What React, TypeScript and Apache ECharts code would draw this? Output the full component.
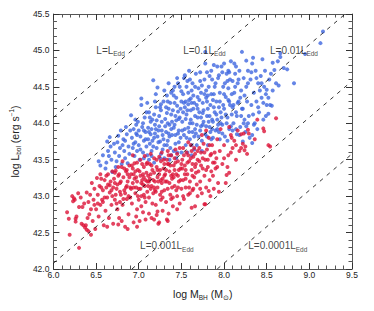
import React, { useEffect, useRef } from 'react';
import * as echarts from 'echarts';

const X_MIN = 6.0;
const X_MAX = 9.5;
const Y_MIN = 42.0;
const Y_MAX = 45.5;
const TICK_STEP = 0.5;

// log L_Edd = EDD_OFFSET + log M
const EDD_OFFSET = 38.08;
const eddRatios = [1, 0.1, 0.01, 0.001, 0.0001];
const eddLabelMain = ['L=L', 'L=0.1L', 'L=0.01L', 'L=0.001L', 'L=0.0001L'];
const eddLabelAnchor = [
  [6.67, 45.0],
  [7.77, 45.0],
  [8.82, 45.0],
  [7.33, 42.32],
  [8.63, 42.32],
];

const blueSample: number[][] = [
  [6.53,43.48],[6.55,43.42],[6.58,43.56],[6.61,43.38],[6.63,43.75],[6.66,43.81],[6.64,43.62],[6.68,43.5],[6.62,43.46],[6.67,43.68],[6.69,43.33],[6.65,43.55],
  [6.71,43.72],[6.72,43.6],[6.74,43.48],[6.76,43.83],[6.73,43.4],[6.78,43.66],[6.77,43.55],[6.79,43.9],[6.81,43.7],[6.83,43.62],[6.82,43.78],[6.84,43.52],[6.86,43.85],[6.87,43.45],[6.88,43.68],[6.85,43.95],[6.89,43.58],[6.8,43.44],[6.75,43.74],
  [6.91,44.11],[6.92,43.8],[6.93,43.66],[6.94,43.92],[6.95,43.55],[6.96,43.74],[6.97,43.86],[6.98,43.62],[6.99,44.02],[7.0,43.7],[7.01,43.5],[7.02,43.82],[7.03,44.34],[7.03,44.25],[7.04,43.95],[7.05,43.6],[7.06,43.76],[7.07,44.08],[7.08,43.88],[7.09,43.68],[7.1,43.56],[6.94,43.72],[6.97,43.98],[7.0,43.9],[7.05,44.0],[7.08,43.78],
  [7.11,43.94],[7.12,44.15],[7.13,43.72],[7.14,43.85],[7.15,43.62],[7.16,44.05],[7.17,44.59],[7.18,43.8],[7.19,43.98],[7.2,44.22],[7.21,43.66],[7.22,44.49],[7.23,43.9],[7.24,44.1],[7.25,43.75],[7.26,43.58],[7.27,44.02],[7.28,43.84],[7.29,44.3],[7.3,43.7],[7.12,43.88],[7.14,44.02],[7.16,43.76],[7.18,44.12],[7.2,43.92],[7.22,43.82],[7.24,43.96],[7.26,44.18],[7.28,43.64],[7.15,43.55],[7.25,43.52],[7.19,44.3],
  [7.31,44.06],[7.32,43.88],[7.33,44.38],[7.34,43.76],[7.35,44.2],[7.36,43.98],[7.37,43.66],[7.38,44.12],[7.39,43.84],[7.4,44.45],[7.41,43.94],[7.42,44.28],[7.43,43.72],[7.44,44.04],[7.45,43.6],[7.46,44.16],[7.47,43.9],[7.48,44.5],[7.49,43.8],[7.5,44.3],[7.32,44.22],[7.34,44.0],[7.36,43.82],[7.38,43.56],[7.4,44.18],[7.42,43.98],[7.44,44.35],[7.46,43.86],[7.48,44.08],[7.35,44.55],[7.45,44.62],[7.38,43.92],[7.43,44.1],[7.47,43.74],[7.33,43.7],[7.41,43.62],
  [7.51,44.02],[7.52,44.4],[7.53,43.84],[7.54,44.22],[7.55,43.7],[7.56,44.12],[7.57,44.58],[7.58,43.94],[7.59,44.32],[7.6,43.78],[7.61,44.05],[7.62,44.45],[7.63,43.88],[7.64,44.2],[7.65,43.64],[7.66,44.1],[7.67,44.68],[7.68,43.98],[7.69,44.36],[7.7,43.82],[7.52,44.15],[7.54,43.92],[7.56,44.5],[7.58,44.26],[7.6,44.0],[7.62,43.7],[7.64,44.38],[7.66,43.92],[7.68,44.25],[7.53,44.62],[7.57,43.6],[7.63,44.55],[7.69,44.08],[7.55,44.3],[7.61,44.18],[7.65,43.82],[7.59,44.72],[7.7,44.48],
  [7.71,44.15],[7.72,43.9],[7.73,44.42],[7.74,43.76],[7.75,44.28],[7.76,44.02],[7.77,44.6],[7.78,43.85],[7.79,44.35],[7.8,44.1],[7.81,43.7],[7.82,44.5],[7.83,43.95],[7.84,44.25],[7.85,44.72],[7.86,44.05],[7.87,43.8],[7.88,44.4],[7.89,44.15],[7.9,43.9],[7.72,44.7],[7.74,44.52],[7.76,44.18],[7.78,44.82],[7.8,44.3],[7.82,44.02],[7.84,43.88],[7.86,44.6],[7.88,44.22],[7.75,43.98],[7.79,44.45],[7.83,44.65],[7.87,44.32],[7.73,44.08],[7.81,44.38],[7.85,43.78],[7.78,44.98],[7.9,44.55],
  [7.91,44.3],[7.92,44.05],[7.93,44.62],[7.94,43.88],[7.95,44.42],[7.96,44.15],[7.97,44.78],[7.98,43.98],[7.99,44.5],[8.0,44.2],[8.01,43.82],[8.02,44.36],[8.03,44.68],[8.04,44.08],[8.05,44.48],[8.06,43.92],[8.07,44.25],[8.08,44.85],[8.09,44.12],[8.1,44.58],[7.92,44.78],[7.94,44.22],[7.96,44.0],[7.98,44.7],[8.0,44.4],[8.02,44.12],[8.04,44.58],[8.06,44.3],[8.08,43.96],[8.1,44.22],[7.95,43.78],[8.05,44.72],
  [8.11,44.0],[8.12,44.42],[8.13,44.68],[8.14,44.15],[8.15,43.85],[8.16,44.55],[8.17,44.3],[8.18,44.72],[8.19,43.95],[8.2,44.45],[8.21,44.98],[8.22,44.2],[8.23,44.62],[8.24,44.05],[8.25,43.88],[8.26,44.5],[8.27,44.3],[8.28,44.72],[8.29,44.1],[8.3,43.8],[8.12,44.82],[8.16,44.28],[8.2,44.1],[8.24,44.38],[8.28,44.55],[8.14,43.92],[8.22,43.75],
  [8.31,44.6],[8.32,44.25],[8.33,44.82],[8.35,44.42],[8.36,44.0],[8.37,44.72],[8.38,44.3],[8.4,44.55],[8.41,44.15],[8.43,44.65],[8.44,44.35],[8.46,44.05],[8.47,44.5],[8.48,44.72],[8.5,44.25],[8.34,44.9],[8.39,43.92],[8.45,44.88],[8.42,44.45],[8.49,44.1],[8.33,43.84],[8.33,43.73],[8.35,43.98],[8.52,44.13],[8.56,44.24],
  [8.52,44.35],[8.53,44.6],[8.55,44.68],[8.59,44.73],[8.61,44.55],[8.63,44.85],[8.66,44.96],[8.66,44.91],[8.7,44.76],[8.74,44.74],[8.82,44.55],[8.95,44.95],[9.13,45.1],[9.16,45.26],[8.57,44.45],[8.54,44.25],[8.57,44.83],[8.64,44.52],[8.49,44.4],
  [7.02,43.64],[7.06,43.9],[7.09,44.15],[7.11,43.78],[7.13,44.08],[7.15,43.92],[7.17,43.68],[7.19,43.86],[7.21,44.04],[7.23,43.74],[7.25,44.22],[7.27,43.9],[7.29,43.78],[7.31,43.96],[7.33,44.14],[7.35,43.86],[7.37,44.28],[7.39,44.02],[7.41,44.38],[7.43,43.84],[7.45,44.24],[7.47,44.06],[7.49,44.2],[7.51,43.9],[7.53,44.28],[7.55,44.06],[7.57,44.18],[7.59,43.88],[7.61,44.34],[7.63,44.0],[7.65,44.28],[7.67,43.86],[7.69,44.2],[7.71,44.32],[7.73,43.96],[7.75,44.14],[7.77,44.4],[7.79,43.96],[7.81,44.2],[7.83,44.1],[7.85,44.4],[7.87,44.02],[7.89,44.5],[7.91,44.12],[7.93,43.98],[7.95,44.3],[7.97,44.08],[7.99,44.25],[8.01,44.55],[8.03,44.0],[8.05,44.32],[8.07,44.6],[8.09,44.4],[8.11,44.25],[8.13,44.5],[8.15,44.1],[8.17,44.6],[8.19,44.35],[8.21,44.2],[8.23,44.0],
  [7.06,43.52],[7.12,43.5],[7.18,43.46],[7.3,43.52],[7.36,43.5],[7.44,43.52],[7.5,43.6],[7.56,43.8],[7.62,43.56],[7.68,43.7],[7.74,43.62],[7.8,43.82],[7.86,43.92],[7.92,43.92],[7.98,43.86],[8.04,43.76],[8.1,43.9],[6.98,43.84],[6.9,43.9],[6.84,43.76],[6.96,44.05],[7.1,44.28],[7.2,44.4],[7.3,44.45],[7.38,44.42],[7.46,44.55],[7.54,44.66],[7.6,44.6],[7.66,44.5],[7.72,44.58],[7.8,44.7],[7.88,44.8],[7.94,44.66],[8.0,44.82],[8.06,44.7],[8.14,44.78],[8.26,44.86],[8.32,44.7],[8.38,44.62],[8.44,44.55],[8.5,44.46],[8.46,44.28],[8.4,44.22],[8.34,44.12],[8.28,44.0],[8.18,43.84],[8.26,43.96],[7.26,44.26],[7.42,44.5],[7.58,44.42],[7.34,44.3],[7.5,44.44],[7.62,44.28],
];

const redSample: number[][] = [
  [6.16,42.78],[6.19,42.47],[6.18,42.69],[6.23,42.93],[6.26,42.69],[6.29,43.04],[6.3,42.29],[6.24,42.97],[6.27,42.72],[6.25,42.95],[6.26,42.65],
  [6.33,42.62],[6.35,42.6],[6.37,42.57],[6.39,42.54],[6.41,42.52],[6.38,42.6],[6.34,42.85],[6.39,43.05],[6.41,42.92],[6.42,42.75],[6.44,42.47],[6.45,43.18],[6.46,42.66],[6.47,42.95],[6.48,43.1],[6.5,42.82],[6.49,42.55],[6.32,42.98],[6.43,43.02],
  [6.51,43.25],[6.52,43.02],[6.53,42.72],[6.54,43.14],[6.55,42.88],[6.56,43.24],[6.57,42.95],[6.58,43.08],[6.59,42.6],[6.6,43.22],[6.61,42.8],[6.62,43.12],[6.63,42.98],[6.64,43.3],[6.65,42.7],[6.66,43.05],[6.67,43.2],[6.68,42.88],[6.69,43.34],[6.7,42.62],[6.55,43.3],[6.62,43.28],[6.66,43.15],[6.58,42.92],[6.69,43.0],[6.63,42.58],
  [6.71,43.24],[6.72,42.95],[6.73,43.35],[6.74,43.1],[6.75,42.82],[6.76,43.28],[6.77,42.7],[6.78,43.18],[6.79,43.02],[6.8,43.4],[6.81,42.88],[6.82,43.26],[6.83,43.08],[6.84,42.58],[6.85,43.34],[6.86,42.96],[6.87,43.2],[6.88,42.75],[6.89,43.42],[6.9,43.12],[6.72,43.32],[6.75,43.16],[6.78,42.92],[6.81,43.48],[6.84,43.04],[6.87,43.3],[6.8,42.66],[6.86,43.14],[6.76,43.4],[6.88,43.0],[6.76,42.61],[6.87,42.55],
  [6.91,43.3],[6.92,42.9],[6.93,43.18],[6.94,42.64],[6.95,43.45],[6.96,43.04],[6.97,43.26],[6.98,42.82],[6.99,43.36],[7.0,43.1],[7.01,42.66],[7.02,43.5],[7.03,43.0],[7.04,43.22],[7.05,42.78],[7.06,43.4],[7.07,43.14],[7.08,42.92],[7.09,43.32],[7.1,43.06],[6.92,43.42],[6.94,43.12],[6.96,43.34],[6.98,43.2],[7.0,42.95],[7.02,43.28],[7.04,43.44],[7.06,43.02],[7.08,43.22],[7.1,43.46],[6.97,42.72],[7.03,42.86],[7.07,43.55],[6.93,43.56],[7.05,43.16],[7.08,42.68],
  [7.11,43.28],[7.12,42.98],[7.13,43.44],[7.14,43.1],[7.15,42.7],[7.16,43.36],[7.17,43.04],[7.18,43.52],[7.19,43.2],[7.2,42.88],[7.21,43.4],[7.22,43.12],[7.23,42.62],[7.24,43.3],[7.25,43.02],[7.26,43.48],[7.27,43.18],[7.28,42.8],[7.29,43.38],[7.3,43.08],[7.12,43.2],[7.14,43.58],[7.16,42.9],[7.18,43.32],[7.2,43.06],[7.22,43.26],[7.24,43.54],[7.26,42.95],[7.28,43.24],[7.3,43.44],[7.15,43.14],[7.21,42.74],[7.27,43.6],[7.24,42.64],[7.22,42.79],
  [7.31,43.2],[7.32,42.92],[7.33,43.5],[7.34,43.1],[7.35,42.76],[7.36,43.34],[7.37,43.02],[7.38,43.56],[7.39,43.24],[7.4,42.86],[7.41,43.42],[7.42,43.14],[7.43,43.64],[7.44,43.3],[7.45,43.0],[7.46,43.48],[7.47,43.2],[7.48,42.9],[7.49,43.38],[7.5,43.1],[7.32,43.36],[7.34,43.62],[7.36,43.18],[7.38,42.96],[7.4,43.3],[7.42,43.52],[7.44,43.08],[7.46,43.28],[7.48,43.66],[7.35,43.44],[7.45,42.82],[7.33,42.68],[7.34,42.66],
  [7.51,43.5],[7.52,43.22],[7.53,42.96],[7.54,43.42],[7.55,43.12],[7.56,43.6],[7.57,43.3],[7.58,43.02],[7.59,43.48],[7.6,43.2],[7.61,43.7],[7.62,43.36],[7.63,43.08],[7.64,43.54],[7.65,43.26],[7.66,42.86],[7.67,43.44],[7.68,43.16],[7.69,43.62],[7.7,43.34],[7.52,43.66],[7.55,43.36],[7.58,43.74],[7.6,43.04],[7.63,43.44],[7.66,43.58],[7.69,43.0],[7.62,42.84],
  [7.71,43.48],[7.72,43.2],[7.73,43.6],[7.74,43.04],[7.75,43.38],[7.76,43.72],[7.77,43.28],[7.78,43.5],[7.79,43.12],[7.8,43.64],[7.81,43.4],[7.82,43.8],[7.83,43.22],[7.84,43.56],[7.85,43.34],[7.86,43.7],[7.87,43.46],[7.88,43.1],[7.89,43.6],[7.9,43.38],[7.74,43.84],[7.79,43.9],[7.84,43.0],[7.77,42.89],[7.78,42.89],[7.82,43.07],
  [7.91,43.52],[7.92,43.78],[7.93,43.18],[7.95,43.62],[7.96,43.92],[7.98,43.44],[8.0,43.7],[8.02,43.18],[8.03,43.29],[8.05,43.56],[8.06,43.32],[8.08,43.84],[8.1,43.66],[7.94,43.06],[8.04,43.4],[8.09,43.8],[8.06,43.95],
  [8.12,43.76],[8.14,43.5],[8.16,43.9],[8.18,43.62],[8.2,43.85],[8.23,43.86],[8.24,43.63],[8.25,43.68],[8.27,43.58],[8.28,43.91],[8.29,43.86],[8.22,43.72],
  [8.36,43.78],[8.39,44.05],[8.47,43.89],[8.54,43.68],[8.61,44.07],[8.52,43.7],[8.46,43.93],
  [6.7,43.12],[6.73,43.02],[6.77,43.3],[6.79,43.2],[6.83,43.38],[6.85,43.12],[6.89,43.26],[6.91,43.1],[6.93,43.38],[6.95,43.24],[6.97,43.12],[6.99,43.0],[7.01,43.34],[7.03,43.18],[7.05,43.3],[7.07,42.98],[7.09,43.44],[7.11,43.14],[7.13,43.24],[7.15,43.42],[7.17,43.22],[7.19,43.08],[7.21,43.5],[7.23,43.2],[7.25,43.36],[7.27,43.06],[7.29,43.5],[7.31,43.3],[7.33,43.2],[7.35,43.56],[7.37,43.42],[7.39,43.12],[7.41,43.26],[7.43,43.46],[7.45,43.58],[7.47,43.36],[7.49,43.22],[7.51,43.38],[7.53,43.56],[7.55,43.24],[7.57,43.46],[7.59,43.12],[7.61,43.52],[7.63,43.28],[7.65,43.66],[7.67,43.32],[7.69,43.5],[7.71,43.66],[7.73,43.42],[7.75,43.52],[7.77,43.6],[7.79,43.36],[7.81,43.5],[7.83,43.7],[7.85,43.58],[7.87,43.28],[7.89,43.46],
  [6.6,42.98],[6.64,43.16],[6.68,43.08],[6.72,43.18],[6.74,42.9],[6.78,43.06],[6.82,42.96],[6.86,43.36],[6.9,42.98],[6.94,43.3],[6.98,43.46],[7.02,43.1],[7.06,43.26],[7.1,43.2],[7.14,43.3],[7.18,43.12],[7.22,43.36],[7.26,43.22],[7.3,43.28],[7.34,43.44],[7.38,43.28],[7.42,43.36],[7.46,43.12],[7.5,43.44],[7.54,43.3],[7.58,43.56],[7.62,43.62],[7.66,43.4],
  [6.56,43.12],[6.52,42.9],[6.48,42.88],[6.44,42.82],[6.4,42.7],[6.36,42.9],[6.3,42.85],[6.22,43.0],[6.98,42.58],[7.12,42.76],[7.18,42.68],[7.28,42.98],[7.4,42.98],[7.52,43.0],[7.64,43.1],[7.72,43.1],[7.92,43.4],[8.0,43.52],[8.08,43.6],[8.14,43.7],[8.2,43.66],
];

const FONT = '"Liberation Sans", Arial, Helvetica, sans-serif';

export default function App() {
  const ref = useRef<HTMLDivElement>(null);

  useEffect(() => {
    if (!ref.current) return;
    const chart = echarts.init(ref.current, undefined, { renderer: 'svg' });

    const lineSeries = eddRatios.map((r) => {
      const off = EDD_OFFSET + Math.log10(r);
      // clip the relation log L = off + log M to the plotting box
      const x0 = Math.max(X_MIN, Y_MIN - off);
      const x1 = Math.min(X_MAX, Y_MAX - off);
      return {
        type: 'line',
        data: [[x0, x0 + off], [x1, x1 + off]],
        symbol: 'none',
        silent: true,
        z: 5,
        lineStyle: { color: '#000', width: 0.8, type: [4, 5] },
      };
    });

    const labelData = eddLabelAnchor.map((p, i) => ({ value: p, name: eddLabelMain[i] }));

    const axisCommon = {
      type: 'value',
      interval: TICK_STEP,
      axisLine: { show: true, lineStyle: { color: '#555', width: 1 } },
      axisTick: { show: true, inside: true, length: 6, lineStyle: { color: '#333', width: 1 } },
      minorTick: { show: true, splitNumber: 5, length: 3.5, lineStyle: { color: '#555', width: 1 } },
      splitLine: { show: false },
      minorSplitLine: { show: false },
    };

    chart.setOption({
      animation: false,
      backgroundColor: '#fff',
      grid: { left: 48, right: 22, top: 14, bottom: 42 },
      xAxis: [
        {
          ...axisCommon,
          min: X_MIN,
          max: X_MAX,
          position: 'bottom',
          axisLabel: {
            show: true,
            margin: 1,
            fontSize: 8.5,
            fontFamily: FONT,
            color: '#222',
            formatter: (v: number) => v.toFixed(1),
            showMinLabel: true,
            showMaxLabel: true,
          },
          name: '{a|log M}{s|BH}{a| (M}{s|\u2299}{a|)}',
          nameLocation: 'middle',
          nameGap: 18,
          nameTextStyle: {
            fontFamily: FONT,
            color: '#222',
            rich: {
              a: { fontSize: 10.5, fontFamily: FONT, color: '#222', lineHeight: 14, verticalAlign: 'middle' },
              s: { fontSize: 6.5, fontFamily: FONT, color: '#222', lineHeight: 8, verticalAlign: 'bottom' },
            },
          },
        },
        {
          ...axisCommon,
          min: X_MIN,
          max: X_MAX,
          position: 'top',
          axisLabel: { show: false },
        },
      ],
      yAxis: [
        {
          ...axisCommon,
          min: Y_MIN,
          max: Y_MAX,
          position: 'left',
          axisLabel: {
            show: true,
            margin: 4,
            fontSize: 8.5,
            fontFamily: FONT,
            color: '#222',
            formatter: (v: number) => v.toFixed(1),
            showMinLabel: true,
            showMaxLabel: true,
          },
          name: '{a|log L}{s|bol}{a| (erg s}{p|\u22121}{a|)}',
          nameLocation: 'middle',
          nameGap: 27,
          nameTextStyle: {
            fontFamily: FONT,
            color: '#222',
            rich: {
              a: { fontSize: 10.5, fontFamily: FONT, color: '#222', lineHeight: 14, verticalAlign: 'middle' },
              s: { fontSize: 6.5, fontFamily: FONT, color: '#222', lineHeight: 8, verticalAlign: 'bottom' },
              p: { fontSize: 6.5, fontFamily: FONT, color: '#222', lineHeight: 8, verticalAlign: 'top' },
            },
          },
        },
        {
          ...axisCommon,
          min: Y_MIN,
          max: Y_MAX,
          position: 'right',
          axisLabel: { show: false },
        },
      ],
      series: [
        {
          type: 'scatter',
          data: blueSample,
          symbol: 'circle',
          symbolSize: 4,
          itemStyle: { color: '#3F67E0' },
          silent: true,
          z: 2,
        },
        {
          type: 'scatter',
          data: redSample,
          symbol: 'circle',
          symbolSize: 4,
          itemStyle: { color: '#DC1438' },
          silent: true,
          z: 3,
        },
        ...lineSeries,
        {
          type: 'scatter',
          data: labelData,
          symbolSize: 1,
          itemStyle: { color: 'rgba(0,0,0,0)' },
          silent: true,
          z: 6,
          label: {
            show: true,
            position: 'inside',
            formatter: (p: any) => `{m|${p.name}}{s|Edd}`,
            rich: {
              m: { fontSize: 10, fontFamily: FONT, color: '#111', lineHeight: 14, verticalAlign: 'middle' },
              s: { fontSize: 6.5, fontFamily: FONT, color: '#111', lineHeight: 8, verticalAlign: 'bottom' },
            },
          },
        },
      ],
    });

    return () => chart.dispose();
  }, []);

  return (
    <div
      ref={ref}
      style={{ position: 'fixed', left: 0, top: 0, width: 374, height: 311, background: '#fff' }}
    />
  );
}
